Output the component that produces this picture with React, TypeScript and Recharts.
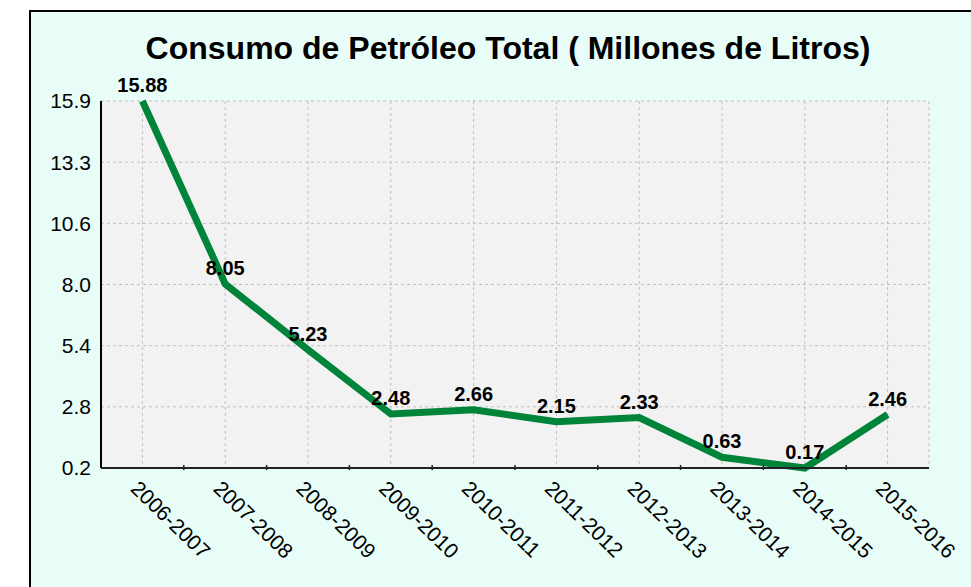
import React from "react";
import {
  LineChart,
  Line,
  XAxis,
  YAxis,
  CartesianGrid,
  LabelList
} from "recharts";

const periodos = [
  "2006-2007",
  "2007-2008",
  "2008-2009",
  "2009-2010",
  "2010-2011",
  "2011-2012",
  "2012-2013",
  "2013-2014",
  "2014-2015",
  "2015-2016"
];

const consumo = [15.88, 8.05, 5.23, 2.48, 2.66, 2.15, 2.33, 0.63, 0.17, 2.46];

const yTicks = [0.17, 2.788, 5.407, 8.025, 10.643, 13.262, 15.88];

const data = periodos.map((periodo, i) => ({ periodo, consumo: consumo[i] }));

const W = 971;
const H = 587;
const margin = { top: 101, right: 42, left: 41, bottom: 0 };
const yAxisWidth = 60;
// half of one category band, used for the tick marks between categories
const halfStep = (W - margin.left - yAxisWidth - margin.right) / periodos.length / 2;

const font = "Arial, 'Liberation Sans', sans-serif";

const XTick = (props: any) => {
  const { x, y, index, payload } = props;
  const tx = x - 13;
  const ty = y + 20;
  return (
    <g>
      {index < periodos.length - 1 && (
        <line x1={x + halfStep} x2={x + halfStep} y1={y - 5} y2={y} stroke="#222" strokeWidth={1.5} />
      )}
      <text
        x={tx}
        y={ty}
        transform={`rotate(44 ${tx} ${ty})`}
        textAnchor="start"
        fontSize={21}
        fontFamily={font}
        fill="#000"
      >
        {payload.value}
      </text>
    </g>
  );
};

export default function App() {
  return (
    <div style={{ position: "absolute", left: 0, top: 0, width: W, height: H, overflow: "hidden", background: "#fff" }}>
      <div
        style={{
          position: "absolute",
          left: 29,
          top: 10,
          width: 980,
          height: 620,
          border: "2px solid #000",
          background: "#e8fdf8"
        }}
      />
      <div style={{ position: "absolute", left: 0, top: 0 }}>
        <LineChart width={W} height={H} data={data} margin={margin}>
          <text x={508} y={59} textAnchor="middle" fontSize={32} fontWeight="bold" fontFamily={font} fill="#000">
            Consumo de Petróleo Total ( Millones de Litros)
          </text>
          <CartesianGrid fill="#f2f2f2" stroke="#c0c0c0" strokeDasharray="3 3" />
          <XAxis
            dataKey="periodo"
            scale="band"
            height={119}
            interval={0}
            tickSize={0}
            tickLine={false}
            axisLine={{ stroke: "#222", strokeWidth: 2 }}
            tick={<XTick />}
          />
          <YAxis
            domain={[0.17, 15.88]}
            ticks={yTicks}
            width={yAxisWidth}
            tickLine={false}
            tickMargin={4}
            tickFormatter={(v: number) => v.toFixed(1)}
            tick={{ fontSize: 21, fontFamily: font, fill: "#000" }}
            axisLine={{ stroke: "#000", strokeWidth: 2 }}
          />
          <YAxis
            yAxisId="borde"
            orientation="right"
            width={0}
            tick={false}
            tickLine={false}
            axisLine={{ stroke: "#888", strokeWidth: 1 }}
          />
          <Line
            type="linear"
            dataKey="consumo"
            stroke="#00843a"
            strokeWidth={7}
            dot={false}
            activeDot={false}
            isAnimationActive={false}
          >
            <LabelList
              dataKey="consumo"
              position="top"
              offset={9}
              formatter={(v: any) => Number(v).toFixed(2)}
              style={{ fontSize: 20, fontWeight: "bold", fontFamily: font, fill: "#000" }}
            />
          </Line>
        </LineChart>
      </div>
    </div>
  );
}
